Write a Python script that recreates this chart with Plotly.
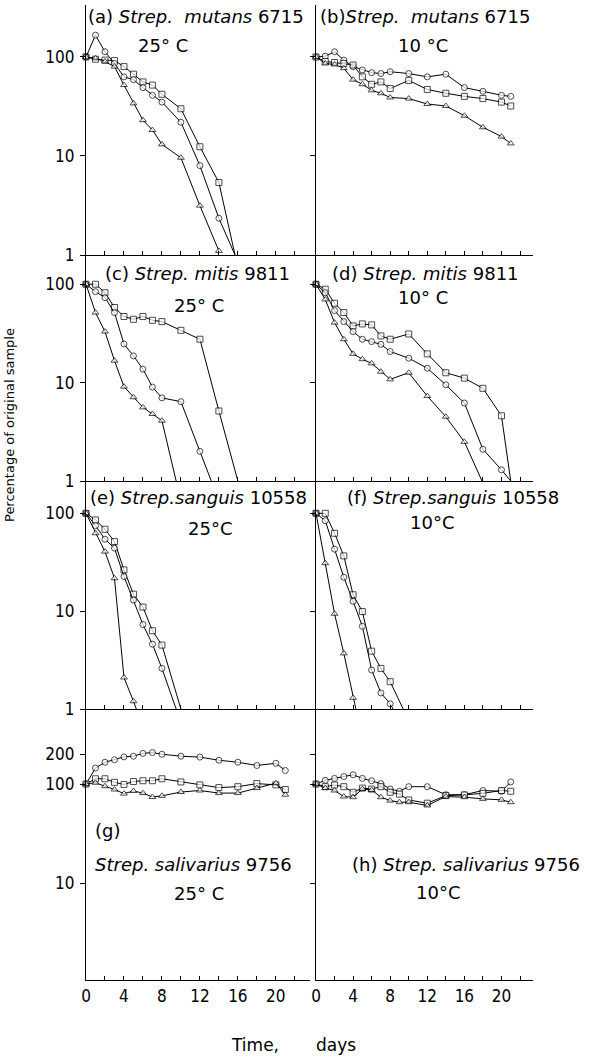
import plotly.graph_objects as go

W, H = 595, 1057

# ---------------- data ----------------
# (a) Strep. mutans 6715, 25 C
a_days = [0, 1, 2, 3, 4, 5, 6, 7, 8, 10, 12, 14, 15.7]
a_sq = [100, 95, 93, 92, 80, 67, 56, 52, 42, 30, 12.4, 5.4, 1]
a_ci = [100, 166, 113, 86, 63, 59, 49, 41, 35, 21.9, 8.0, 2.35, 1]
a_tr_days = [0, 1, 2, 3, 4, 5, 6, 7, 8, 10, 12, 14]
a_tr = [100, 97, 90, 80, 52, 34, 23, 18.3, 13.1, 9.6, 3.15, 1.1]

# (b) Strep. mutans 6715, 10 C
b_days = [0, 1, 2, 3, 4, 5, 6, 7, 8, 10, 12, 14, 16, 18, 20, 21]
b_ci = [100, 102, 113, 93, 80, 74, 69.5, 68, 71, 68, 63, 67, 49, 45, 41, 40]
b_sq = [100, 90, 88, 86, 83, 63, 53, 56, 48, 58, 47, 43, 40, 38, 35, 32]
b_tr = [100, 86, 84, 77, 59, 53, 46, 43, 39, 38, 33.5, 32, 25.5, 19.5, 15.7, 13.4]

# (c) Strep. mitis 9811, 25 C
c_sq_days = [0, 1, 2, 3, 4, 5, 6, 7, 8, 10, 12, 14, 16]
c_sq = [100, 100, 82, 58, 47, 44, 47, 43, 41.7, 34, 27.6, 5.15, 1]
c_ci_days = [0, 1, 2, 3, 4, 5, 6, 7, 8, 10, 12, 13.2]
c_ci = [100, 84, 73, 51.5, 24.7, 18.7, 13.7, 9.0, 7.0, 6.4, 2.0, 1]
c_tr_days = [0, 1, 2, 3, 4, 5, 6, 7, 8, 9.5]
c_tr = [100, 51.5, 33, 16.7, 9.1, 7.1, 5.6, 4.8, 4.1, 1]

# (d) Strep. mitis 9811, 10 C
d_days = [0, 1, 2, 3, 4, 5, 6, 7, 8, 10, 12, 14, 16, 18, 20, 21]
d_sq = [100, 89, 64, 51.5, 37.7, 39.5, 38.6, 29.8, 27.6, 31.2, 19.6, 12.6, 11.1, 8.75, 4.6, 1]
d_ci = [100, 82, 54, 41.7, 33, 27.6, 26.1, 24.5, 20.7, 17.7, 14, 9.5, 6.2, 2.1, 1.3, 1]
d_tr_days = [0, 1, 2, 3, 4, 5, 6, 7, 8, 10, 12, 14, 16, 17.9]
d_tr = [100, 70, 40.7, 27.6, 19.6, 17.3, 15.7, 12.9, 10.8, 12.6, 7.3, 4.5, 2.5, 1]

# (e) Strep. sanguis 10558, 25 C
e_sq_days = [0, 1, 2, 3, 4, 5, 6, 7, 8, 10]
e_sq = [100, 85.5, 68.7, 51.4, 26.4, 14.9, 11.0, 6.3, 4.5, 1]
e_ci_days = [0, 1, 2, 3, 4, 5, 6, 7, 8, 9.5]
e_ci = [100, 74.8, 54.3, 44, 22.6, 13, 7.3, 4.6, 2.6, 1]
e_tr_days = [0, 1, 2, 3, 4, 5, 5.3]
e_tr = [100, 62.5, 40.6, 21.7, 2.1, 1.2, 1]

# (f) Strep. sanguis 10558, 10 C
f_sq_days = [0, 1, 2, 3, 4, 5, 6, 7, 8, 9.4]
f_sq = [100, 100, 62.5, 36.7, 14.7, 9.9, 3.9, 2.6, 1.9, 1]
f_ci_days = [0, 1, 2, 3, 4, 5, 6, 7, 8, 8.3]
f_ci = [100, 84, 43, 22.2, 12.6, 7.0, 2.5, 1.46, 1.13, 1]
f_tr_days = [0, 1, 2, 3, 4, 4.3]
f_tr = [100, 30.9, 9.4, 3.7, 1.3, 1]

# (g) Strep. salivarius 9756, 25 C
g_days = [0, 1, 2, 3, 4, 5, 6, 7, 8, 10, 12, 14, 16, 18, 20, 21]
g_ci = [100, 145, 166, 176, 188, 191, 204, 208, 200, 191, 187, 174, 166, 154, 162, 137]
g_sq = [100, 113, 113, 104, 99, 106, 108, 108, 113, 105, 98, 92, 94, 101, 98, 88]
g_tr = [100, 103, 95, 88, 80, 85, 81, 74, 76, 83, 86, 81, 81, 91, 102, 78]

# (h) Strep. salivarius 9756, 10 C
h_days = [0, 1, 2, 3, 4, 5, 6, 7, 8, 9, 10, 12, 14, 16, 18, 20, 21]
h_ci = [100, 109, 114, 119, 124, 114, 108, 101, 89, 84.5, 94, 94, 78, 78, 86, 84.5, 105]
h_sq = [100, 94, 97.7, 94, 82.5, 91, 89, 94, 82.5, 79, 69, 64, 76.4, 77.6, 80.6, 86, 84.5]
h_tr = [100, 91, 86, 74.7, 73.6, 89, 87, 73.6, 68, 65.5, 65.5, 60.7, 74.7, 73.6, 70.8, 69.2, 65.5]

x_tick_vals = [0, 2, 4, 6, 8, 10, 12, 14, 16, 18, 20, 22]
x_tick_text = ["0", "", "4", "", "8", "", "12", "", "16", "", "20", ""]

panels = [
    [(a_days, a_sq, "square"), (a_days, a_ci, "circle"), (a_tr_days, a_tr, "triangle-up")],
    [(b_days, b_ci, "circle"), (b_days, b_sq, "square"), (b_days, b_tr, "triangle-up")],
    [(c_sq_days, c_sq, "square"), (c_ci_days, c_ci, "circle"), (c_tr_days, c_tr, "triangle-up")],
    [(d_days, d_sq, "square"), (d_days, d_ci, "circle"), (d_tr_days, d_tr, "triangle-up")],
    [(e_sq_days, e_sq, "square"), (e_ci_days, e_ci, "circle"), (e_tr_days, e_tr, "triangle-up")],
    [(f_sq_days, f_sq, "square"), (f_ci_days, f_ci, "circle"), (f_tr_days, f_tr, "triangle-up")],
    [(g_days, g_ci, "circle"), (g_days, g_sq, "square"), (g_days, g_tr, "triangle-up")],
    [(h_days, h_ci, "circle"), (h_days, h_sq, "square"), (h_days, h_tr, "triangle-up")],
]

# ---------------- layout geometry ----------------
def fx(px):
    return px / W

def fy(py):
    return 1 - py / H

rows_px = [(5, 255), (255, 481), (481, 709), (709, 980)]
rows_range = [[0, 2.525], [0, 2.297], [0, 2.33], [0.02, 2.758]]
rows_ticks = [[1, 10, 100], [1, 10, 100], [1, 10, 100], [10, 100, 200]]
cols_px = [(86, 310), (316, 533)]
cols_range = [[0, 23.6], [0, 23.4]]

tick_font = dict(family="DejaVu Sans Condensed, DejaVu Sans", size=17, color="black")

fig = go.Figure()
layout = dict(
    width=W, height=H,
    margin=dict(l=0, r=0, t=0, b=0, autoexpand=False),
    paper_bgcolor="white", plot_bgcolor="white",
    showlegend=False,
)

for i, series in enumerate(panels):
    r, c = divmod(i, 2)
    n = i + 1
    xname = "x" if n == 1 else f"x{n}"
    yname = "y" if n == 1 else f"y{n}"
    for days, vals, sym in series:
        sizes = [6] * len(vals)
        if r < 3 and vals[-1] == 1:
            sizes[-1] = 0
        fig.add_trace(go.Scatter(
            x=days, y=vals, xaxis=xname, yaxis=yname, mode="lines+markers",
            line=dict(color="black", width=1),
            marker=dict(symbol=sym, size=sizes, color="white",
                        line=dict(color="black", width=1)),
            cliponaxis=False, hoverinfo="skip",
        ))
    xa = dict(
        domain=[fx(cols_px[c][0]), fx(cols_px[c][1])], range=cols_range[c],
        anchor=yname, showline=True, linecolor="black", linewidth=1.3,
        ticks="inside", ticklen=4, tickwidth=1, tickcolor="black",
        tickmode="array", tickvals=x_tick_vals, ticktext=x_tick_text,
        showticklabels=(r == 3), tickfont=tick_font, automargin=False,
        showgrid=False, zeroline=False, fixedrange=True,
    )
    ticks = rows_ticks[r]
    ya = dict(
        domain=[fy(rows_px[r][1]), fy(rows_px[r][0])], range=rows_range[r],
        type="log", anchor=xname, showline=True, linecolor="black", linewidth=1.3,
        ticks="outside", ticklen=5, tickwidth=1, tickcolor="black",
        tickmode="array", tickvals=ticks, ticktext=[str(t) for t in ticks],
        showticklabels=(c == 0), tickfont=tick_font, ticklabelstandoff=2,
        automargin=False,
        showgrid=False, zeroline=False, fixedrange=True,
    )
    layout["xaxis" if n == 1 else f"xaxis{n}"] = xa
    layout["yaxis" if n == 1 else f"yaxis{n}"] = ya

fig.update_layout(**layout)

title_font = dict(family="DejaVu Sans", size=18, color="black")
temp_font = dict(family="DejaVu Sans", size=18, color="black")
axis_font = dict(family="DejaVu Sans", size=17, color="black")

annos = [
    # (text, x_px, y_px, xanchor, font)
    ("(a) <i>Strep.  mutans</i> 6715", 86, 16, "left", title_font),
    ("25° C", 163, 45, "center", temp_font),
    ("(b)<i>Strep.  mutans</i> 6715", 318, 16, "left", title_font),
    ("10 °C", 423, 45, "center", temp_font),
    ("(c) <i>Strep. mitis</i> 9811", 103, 274, "left", title_font),
    ("25° C", 199, 305, "center", temp_font),
    ("(d) <i>Strep. mitis</i> 9811", 330, 273, "left", title_font),
    ("10° C", 423, 297, "center", temp_font),
    ("(e) <i>Strep.sanguis</i> 10558", 88, 498, "left", title_font),
    ("25°C", 210, 528, "center", temp_font),
    ("(f) <i>Strep.sanguis</i> 10558", 345, 498, "left", title_font),
    ("10°C", 432, 523, "center", temp_font),
    ("(g)", 93, 830, "left", title_font),
    ("<i>Strep. salivarius</i> 9756", 93, 864, "left", title_font),
    ("25° C", 199, 893, "center", temp_font),
    ("(h) <i>Strep. salivarius</i> 9756", 350, 864, "left", title_font),
    ("10°C", 438, 892, "center", temp_font),
    ("Time,", 255, 1045, "center", axis_font),
    ("days", 336, 1045, "center", axis_font),
]
for text, xp, yp, xanc, font in annos:
    fig.add_annotation(text=text, x=fx(xp), y=fy(yp), xref="paper", yref="paper",
                       xanchor=xanc, yanchor="middle", showarrow=False, font=font)

fig.add_annotation(text="Percentage of original sample", x=fx(9), y=fy(425),
                   xref="paper", yref="paper", xanchor="center", yanchor="middle",
                   textangle=-90, showarrow=False,
                   font=dict(family="DejaVu Sans", size=13, color="black"))

fig.write_html("out.html", config={"displayModeBar": False},
               post_script="document.body.style.margin='0';document.body.style.overflow='hidden';")
